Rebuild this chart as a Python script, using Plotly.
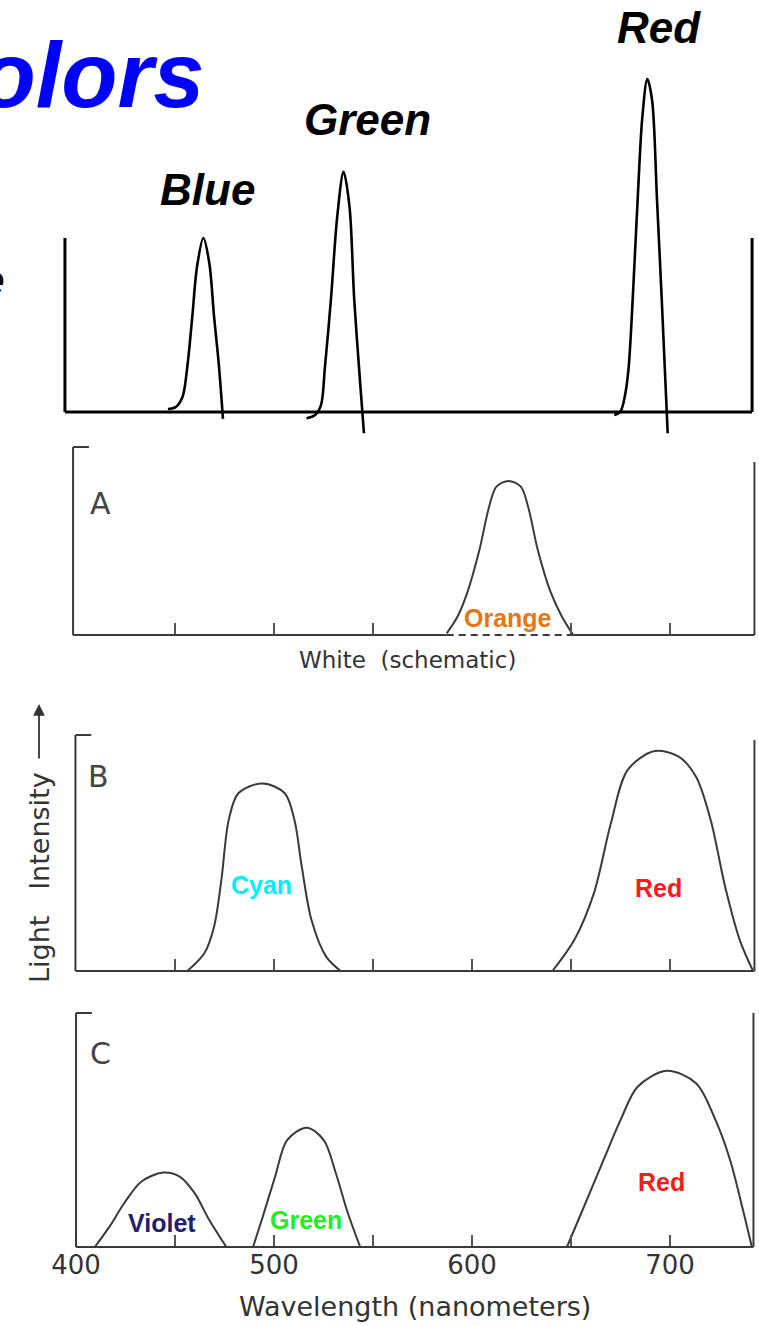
import plotly.graph_objects as go

W, H = 759, 1326

# shared wavelength window (nm) for every panel
X_RANGE = [361.6, 744.9]

# ---------------- top sketch: three narrow primary lines ----------------
TOP_BLUE_NM = [446.4, 450.3, 453.8, 456.2, 458.7, 461.1, 464.3, 467.3, 469.7, 472.2, 474.2]
TOP_BLUE_I = [0.017, 0.028, 0.088, 0.260, 0.547, 0.835, 1.000, 0.856, 0.549, 0.260, -0.040]

TOP_GREEN_NM = [516.4, 520.7, 523.7, 525.7, 528.7, 531.9, 535.1, 538.1, 540.5, 543.5, 545.4]
TOP_GREEN_I = [-0.036, -0.017, 0.040, 0.260, 0.644, 1.122, 1.381, 1.180, 0.644, 0.165, -0.122]

TOP_RED_NM = [671.8, 674.9, 677.4, 679.1, 681.1, 683.6, 686.0, 688.5, 690.9, 693.4, 695.8, 698.8]
TOP_RED_I = [-0.017, 0.002, 0.107, 0.260, 0.644, 1.218, 1.697, 1.914, 1.793, 1.218, 0.644, -0.122]

TOP_LABELS = ["Blue", "Green", "Red"]
TOP_LABEL_NM = [466.4, 547.2, 694.2]
TOP_LABEL_I = [1.280, 1.680, 2.210]

# ---------------- panel A: white (schematic) ----------------
A_ORANGE_NM = [587.2, 592.6, 597.5, 603.7, 608.6, 612.3, 618.4, 624.6, 628.3, 633.2, 639.3, 645.4, 651.1]
A_ORANGE_I = [0.9, 9.7, 22.3, 45.2, 68.2, 78.9, 81.9, 78.9, 68.2, 45.2, 23.9, 9.7, 0.0]
A_DASH_NM = [587.2, 651.1]
A_TICKS = [450, 500, 550, 650, 700]

# ---------------- panel B: cyan + red ----------------
B_CYAN_NM = [456.2, 464.8, 469.7, 473.4, 477.1, 482.0, 494.3, 505.4, 510.3, 514.0, 518.9, 526.3, 533.6]
B_CYAN_I = [0.0, 7.5, 18.8, 38.6, 64.0, 75.3, 79.5, 75.3, 64.0, 44.2, 21.6, 6.1, 0.0]
B_RED_NM = [640.6, 651.6, 661.5, 670.1, 678.6, 692.2, 704.4, 713.1, 720.5, 727.8, 735.2, 741.9]
B_RED_I = [0.0, 13.1, 32.9, 62.6, 85.2, 93.2, 90.8, 82.3, 64.0, 35.7, 13.1, 0.0]
B_TICKS = [450, 500, 550, 600, 650, 700]

# ---------------- panel C: violet + green + red ----------------
C_VIOLET_NM = [409.5, 416.9, 424.3, 432.9, 443.9, 452.5, 459.9, 467.3, 475.9]
C_VIOLET_I = [0.0, 8.7, 18.7, 27.9, 31.8, 30.0, 23.0, 11.5, 0.0]
C_GREEN_NM = [489.4, 494.3, 500.5, 506.6, 516.5, 525.1, 531.2, 537.3, 543.5]
C_GREEN_I = [0.0, 12.9, 30.0, 45.7, 51.0, 45.7, 31.5, 14.4, 0.0]
C_RED_NM = [647.9, 656.5, 666.4, 675.0, 683.6, 698.3, 713.1, 722.9, 730.3, 736.4, 741.3]
C_RED_I = [0.0, 17.2, 37.2, 54.3, 68.5, 75.3, 70.0, 54.3, 37.2, 17.2, 0.0]
C_TICKS = [400, 450, 500, 550, 600, 650, 700]
C_TICK_TEXT = ["400", "", "500", "", "600", "", "700"]

# ---------------- band labels inside the panels ----------------
BAND_LABELS = [
    # panel, text, nm, intensity, colour
    ("A", "Orange", 618.2, 9.3, "#E8750F"),
    ("B", "Cyan", 493.9, 36.6, "#00EEFF"),
    ("B", "Red", 693.9, 35.0, "#FF1A1A"),
    ("C", "Violet", 443.4, 10.3, "#241C6E"),
    ("C", "Green", 516.1, 11.7, "#22EE22"),
    ("C", "Red", 695.9, 27.9, "#FF1A1A"),
]

# ---------------- page geometry (pixels from top) ----------------
# name: (domain top, domain bottom, baseline, pixels per unit, x-axis id, y-axis id)
PANELS = {
    "top": (0, 440, 412, 174.0, "x", "y"),
    "A": (441, 650, 635, 1.88, "x2", "y2"),
    "B": (651, 985, 971, 2.36, "x3", "y3"),
    "C": (986, 1256, 1247, 2.34, "x4", "y4"),
}
FRAMES = {
    # left line nm, right line nm, left top (units), right top (units)
    "A": (398.5, 742.6, 100.0, 92.0),
    "B": (399.7, 742.6, 100.0, 97.9),
    "C": (400.0, 742.1, 100.0, 100.0),
}

SCAN = "#3a3a3a"
INK = "#333333"


def frac(px):
    return 1 - px / H


fig = go.Figure()


def curve(x, y, xa, ya, color, width):
    fig.add_trace(go.Scatter(
        x=x, y=y, xaxis=xa, yaxis=ya, mode="lines",
        line=dict(color=color, width=width, shape="spline", smoothing=0.9),
        hoverinfo="skip", showlegend=False, cliponaxis=False))


# top sketch curves
for xs, ys in [(TOP_BLUE_NM, TOP_BLUE_I), (TOP_GREEN_NM, TOP_GREEN_I), (TOP_RED_NM, TOP_RED_I)]:
    curve(xs, ys, "x", "y", "black", 2.6)

curve(A_ORANGE_NM, A_ORANGE_I, "x2", "y2", SCAN, 2)
curve(B_CYAN_NM, B_CYAN_I, "x3", "y3", SCAN, 2)
curve(B_RED_NM, B_RED_I, "x3", "y3", SCAN, 2)
curve(C_VIOLET_NM, C_VIOLET_I, "x4", "y4", SCAN, 2)
curve(C_GREEN_NM, C_GREEN_I, "x4", "y4", SCAN, 2)
curve(C_RED_NM, C_RED_I, "x4", "y4", SCAN, 2)

shapes = []


def seg(xa, ya, x0, y0, x1, y1, color, width, dash="solid"):
    shapes.append(dict(type="line", xref=xa, yref=ya, x0=x0, y0=y0, x1=x1, y1=y1,
                       line=dict(color=color, width=width, dash=dash)))


# top sketch frame: two uprights joined by the base line
seg("x", "y", 394.4, 0, 741.4, 0, "black", 3)
seg("x", "y", 394.4, 0, 394.4, 1.0, "black", 3)
seg("x", "y", 741.4, 0, 741.4, 1.0, "black", 3)

# scanned panels: bracket on the left, upright on the right, base line
for name, (xl, xr, tl, tr) in FRAMES.items():
    _, _, _, _, xa, ya = PANELS[name]
    seg(xa, ya, xl, 0, xl, tl, SCAN, 2)
    seg(xa, ya, xl, tl, xl + 8, tl, SCAN, 2)
    seg(xa, ya, xr, 0, xr, tr, SCAN, 2)
    if name == "A":
        seg(xa, ya, xl, 0, A_DASH_NM[0], 0, SCAN, 2.2)
        seg(xa, ya, A_DASH_NM[0], 0, A_DASH_NM[1], 0, SCAN, 2.2, dash="7px,5px")
        seg(xa, ya, A_DASH_NM[1], 0, xr, 0, SCAN, 2.2)
    else:
        seg(xa, ya, xl, 0, xr, 0, SCAN, 2.2)

fig.update_layout(shapes=shapes)

# axes
layout_axes = {}
for i, (name, (pt, pb, base, s, xa, ya)) in enumerate(PANELS.items()):
    suffix = "" if i == 0 else str(i + 1)
    lo = -(pb - base) / s
    hi = (base - pt) / s
    layout_axes["yaxis" + suffix] = dict(domain=[frac(pb), frac(pt)], range=[lo, hi],
                                         visible=False, fixedrange=True)
    xdict = dict(domain=[0, 1], range=X_RANGE, showgrid=False, zeroline=False,
                 showline=False, fixedrange=True)
    if name == "top":
        xdict.update(visible=False, anchor="y")
    else:
        ticks = {"A": A_TICKS, "B": B_TICKS, "C": C_TICKS}[name]
        xdict.update(anchor="free", position=frac(base), ticks="inside", ticklen=12,
                     tickwidth=1.6, tickcolor="#555555", tickvals=ticks,
                     showticklabels=(name == "C"))
        if name == "C":
            xdict.update(ticktext=C_TICK_TEXT,
                         tickfont=dict(family="DejaVu Sans", size=26, color=INK))
    layout_axes["xaxis" + suffix] = xdict

fig.update_layout(**layout_axes)

ann = []
bold_it = dict(family="Liberation Sans, Arial, sans-serif", weight="bold", style="italic")

# slide title, running off the left edge
ann.append(dict(text="Colors", xref="paper", yref="paper", x=206 / W, y=frac(75),
                xanchor="right", yanchor="middle", showarrow=False,
                font=dict(size=92, color="#0000FF", **bold_it)))
ann.append(dict(text="e", xref="paper", yref="paper", x=6 / W, y=frac(280),
                xanchor="right", yanchor="middle", showarrow=False,
                font=dict(size=44, color="black", **bold_it)))

for t, xv, yv in zip(TOP_LABELS, TOP_LABEL_NM, TOP_LABEL_I):
    ann.append(dict(text=t, xref="x", yref="y", x=xv, y=yv, showarrow=False,
                    xanchor="center", yanchor="middle",
                    font=dict(size=44, color="black", **bold_it)))

# panel letters
for letter, xa, ya, xv, yv in [("A", "x2", "y2", 412.6, 70.0),
                               ("B", "x3", "y3", 411.1, 82.6),
                               ("C", "x4", "y4", 412.1, 82.5)]:
    ann.append(dict(text=letter, xref=xa, yref=ya, x=xv, y=yv, showarrow=False,
                    xanchor="center", yanchor="middle",
                    font=dict(family="DejaVu Sans", size=30, color="#444444")))

for panel, text, xv, yv, col in BAND_LABELS:
    _, _, _, _, xa, ya = PANELS[panel]
    ann.append(dict(text=text, xref=xa, yref=ya, x=xv, y=yv, showarrow=False,
                    xanchor="center", yanchor="middle",
                    font=dict(family="Liberation Sans, Arial, sans-serif", size=25,
                              weight="bold", color=col)))

ann.append(dict(text="White\u00a0\u00a0(schematic)", xref="x2", yref="paper", x=567.2,
                y=frac(660), showarrow=False, xanchor="center", yanchor="middle",
                font=dict(family="DejaVu Sans", size=23, color=INK)))
ann.append(dict(text="Wavelength\u00a0(nanometers)", xref="x4", yref="paper", x=571.0,
                y=frac(1306), showarrow=False, xanchor="center", yanchor="middle",
                font=dict(family="DejaVu Sans", size=27, color=INK)))
ann.append(dict(text="Light\u00a0\u00a0\u00a0Intensity", xref="paper", yref="paper",
                x=39 / W, y=frac(878), showarrow=False, textangle=-90,
                xanchor="center", yanchor="middle",
                font=dict(family="DejaVu Sans", size=27, color=INK)))
ann.append(dict(text="", xref="paper", yref="paper", x=39 / W, y=frac(704),
                ax=0, ay=56, showarrow=True, arrowhead=2, arrowsize=1.3,
                arrowwidth=1.8, arrowcolor=INK))

fig.update_layout(
    annotations=ann,
    width=W, height=H,
    margin=dict(l=0, r=0, t=0, b=0, pad=0),
    paper_bgcolor="white", plot_bgcolor="rgba(0,0,0,0)",
    showlegend=False,
)

fig.write_html("out.html", config=dict(displayModeBar=False))
